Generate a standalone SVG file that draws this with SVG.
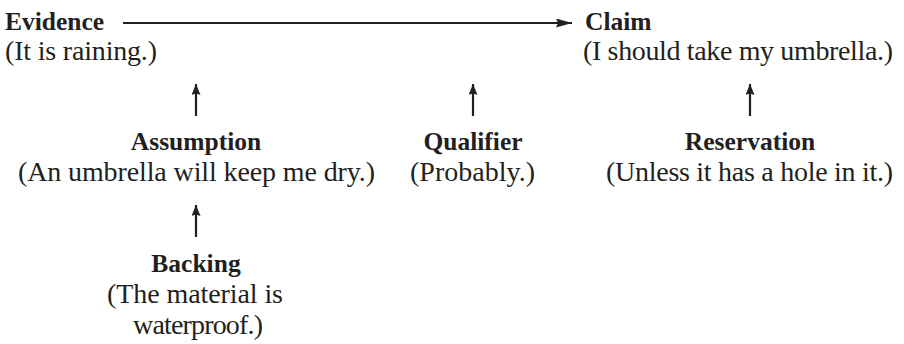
<svg xmlns="http://www.w3.org/2000/svg" width="904" height="344" viewBox="0 0 904 344">
  <style>
    text { font-family: "Liberation Serif", "Times New Roman", serif; fill: #231f20; }
    .label { font-weight: bold; font-size: 25.5px; }
    .note { font-size: 28px; }
    .mid { text-anchor: middle; }
    .link { stroke: #231f20; stroke-width: 2.2; fill: none; }
  </style>
  <defs>
    <!-- long head for the horizontal connector -->
    <marker id="head" viewBox="0 0 16 9" refX="16" refY="4.5" markerWidth="16" markerHeight="9" markerUnits="userSpaceOnUse" orient="auto">
      <path d="M0,0 L16,4.5 L0,9 L2,4.5 z" fill="#231f20"/>
    </marker>
    <!-- short head for the vertical connectors -->
    <marker id="headUp" viewBox="0 0 11 9" refX="11" refY="4.5" markerWidth="11" markerHeight="9" markerUnits="userSpaceOnUse" orient="auto">
      <path d="M0,0 L11,4.5 L0,9 L1.5,4.5 z" fill="#231f20"/>
    </marker>
  </defs>

  <rect width="904" height="344" fill="#ffffff"/>

  <g id="connectors">
    <line class="link" x1="123" y1="23" x2="572" y2="23" marker-end="url(#head)"/>
    <line class="link" x1="196" y1="116" x2="196" y2="84" marker-end="url(#headUp)"/>
    <line class="link" x1="473" y1="116" x2="473" y2="84" marker-end="url(#headUp)"/>
    <line class="link" x1="750" y1="116" x2="750" y2="84" marker-end="url(#headUp)"/>
    <line class="link" x1="196" y1="237" x2="196" y2="205" marker-end="url(#headUp)"/>
  </g>

  <g id="evidence">
    <text class="label" x="5" y="30">Evidence</text>
    <text class="note" x="5" y="60" textLength="152">(It is raining.)</text>
  </g>

  <g id="claim">
    <text class="label" x="585" y="30">Claim</text>
    <text class="note" x="583" y="60" textLength="310">(I should take my umbrella.)</text>
  </g>

  <g id="assumption">
    <text class="label mid" x="196" y="150">Assumption</text>
    <text class="note" x="18" y="181" textLength="357">(An umbrella will keep me dry.)</text>
  </g>

  <g id="qualifier">
    <text class="label mid" x="473" y="150">Qualifier</text>
    <text class="note" x="410" y="181" textLength="125">(Probably.)</text>
  </g>

  <g id="reservation">
    <text class="label mid" x="750" y="150">Reservation</text>
    <text class="note" x="606" y="181" textLength="287">(Unless it has a hole in it.)</text>
  </g>

  <g id="backing">
    <text class="label mid" x="196" y="272">Backing</text>
    <text class="note" x="107" y="303" textLength="176">(The material is</text>
    <text class="note" x="133" y="334" textLength="130">waterproof.)</text>
  </g>
</svg>
